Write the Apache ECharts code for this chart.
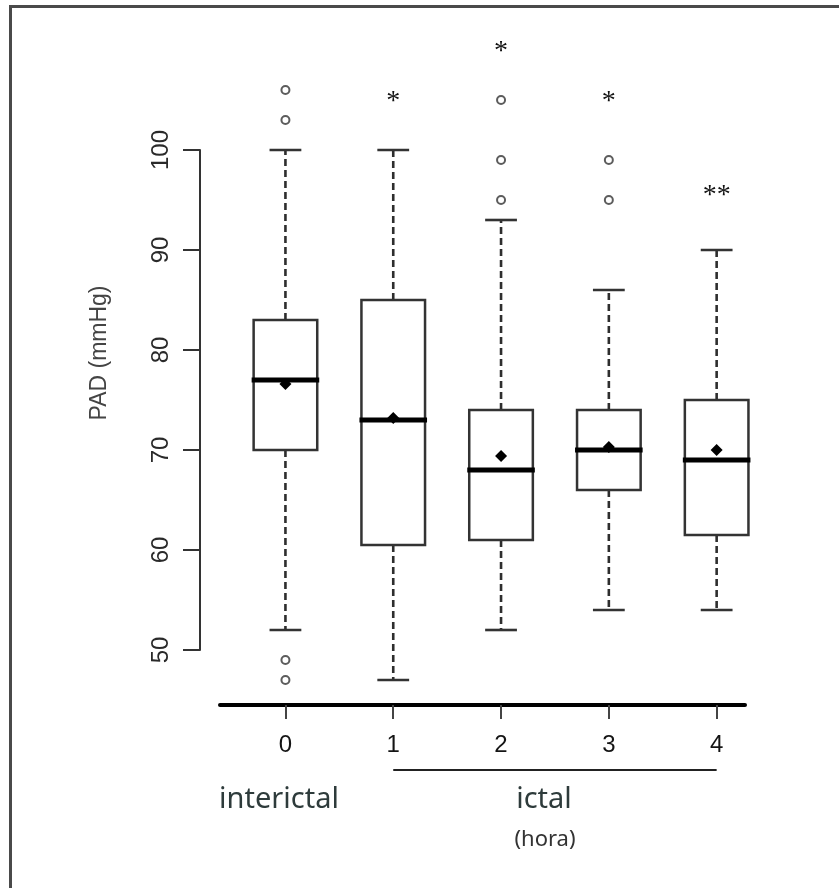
<!DOCTYPE html>
<html>
<head>
<meta charset="utf-8">
<script src="https://cdn.jsdelivr.net/npm/echarts@6/dist/echarts.min.js"></script>
<style>
  html, body { margin: 0; padding: 0; background: #ffffff; }
  #chart { width: 839px; height: 888px; }
</style>
</head>
<body>
<div id="chart"></div>
<script>
// Diastolic pressure (PAD, mmHg) per hour: 0 = interictal, 1-4 = ictal hours
const hours = ['0', '1', '2', '3', '4'];
const whiskerLow = [52, 47, 52, 54, 54];
const q1 = [70, 60.5, 61, 66, 61.5];
const median = [77, 73, 68, 70, 69];
const q3 = [83, 85, 74, 74, 75];
const whiskerHigh = [100, 100, 93, 86, 90];
const mean = [76.6, 73.2, 69.4, 70.3, 70];
const outliers = [[106, 103, 49, 47], [], [105, 99, 95], [99, 95], []];
// significance marks and the level they are written at
const sigMarks = ['', '*', '*', '*', '**'];
const sigLevel = [null, 104.8, 109.8, 104.8, 95.4];
const yTicks = [50, 60, 70, 80, 90, 100];

const BOX_W = 0.59;            // box width in hour units
const INK = '#333333';

const boxRows = hours.map((h, i) => [i, whiskerLow[i], q1[i], median[i], q3[i], whiskerHigh[i], mean[i]]);
const outlierPts = [];
outliers.forEach((list, i) => list.forEach(v => outlierPts.push([i, v])));
const sigPts = [];
sigMarks.forEach((m, i) => { if (m) sigPts.push([i, sigLevel[i]]); });

function renderBox(params, api) {
  const x = api.value(0);
  const pt = v => api.coord([x, v]);
  const half = api.size([BOX_W, 0])[0] / 2;
  const capHalf = half / 2;
  const cx = pt(api.value(1))[0];
  const yLow = pt(api.value(1))[1];
  const yQ1 = pt(api.value(2))[1];
  const yMed = pt(api.value(3))[1];
  const yQ3 = pt(api.value(4))[1];
  const yHigh = pt(api.value(5))[1];
  const yMean = pt(api.value(6))[1];
  const dash = { stroke: '#2e2e2e', lineWidth: 2.6, lineDash: [7, 4] };
  const cap = { stroke: INK, lineWidth: 2.6 };
  const d = 6;
  return {
    type: 'group',
    children: [
      { type: 'line', shape: { x1: cx, y1: yQ3, x2: cx, y2: yHigh }, style: dash },
      { type: 'line', shape: { x1: cx, y1: yQ1, x2: cx, y2: yLow }, style: dash },
      { type: 'line', shape: { x1: cx - capHalf, y1: yHigh, x2: cx + capHalf, y2: yHigh }, style: cap },
      { type: 'line', shape: { x1: cx - capHalf, y1: yLow, x2: cx + capHalf, y2: yLow }, style: cap },
      { type: 'rect', shape: { x: cx - half, y: yQ3, width: half * 2, height: yQ1 - yQ3 },
        style: { fill: '#ffffff', stroke: INK, lineWidth: 2.5 } },
      { type: 'line', shape: { x1: cx - half - 2, y1: yMed, x2: cx + half + 2, y2: yMed },
        style: { stroke: '#000000', lineWidth: 5 } },
      { type: 'polygon', shape: { points: [[cx, yMean - d], [cx + d, yMean], [cx, yMean + d], [cx - d, yMean]] },
        style: { fill: '#000000' } }
    ]
  };
}

function renderSig(params, api) {
  const i = api.value(0);
  const p = api.coord([i, api.value(1)]);
  return {
    type: 'text',
    style: {
      x: p[0], y: p[1], text: sigMarks[i],
      align: 'center', verticalAlign: 'middle',
      font: '28px "Liberation Serif"', fill: '#111111'
    }
  };
}

// bracket joining the ictal hours under the axis labels
function renderBracket(params, api) {
  const a = api.coord([api.value(0), 50]);
  const b = api.coord([api.value(1), 50]);
  const y = a[1] + 120;
  return {
    type: 'line',
    shape: { x1: a[0], y1: y, x2: b[0], y2: y },
    style: { stroke: '#222222', lineWidth: 2 }
  };
}

const chart = echarts.init(document.getElementById('chart'), null, { renderer: 'canvas' });
chart.setOption({
  backgroundColor: '#ffffff',
  animation: false,
  grid: { left: 220, right: 94, top: 150, bottom: 238 },
  xAxis: {
    type: 'value',
    min: -0.607,
    max: 4.263,
    offset: 55,
    splitLine: { show: false },
    axisLine: { show: true, onZero: false, lineStyle: { color: '#000000', width: 4 } },
    axisTick: { show: true, customValues: hours.map((h, i) => i), length: 14, lineStyle: { color: '#444444', width: 2 } },
    axisLabel: {
      customValues: hours.map((h, i) => i),
      formatter: v => hours[Math.round(v)],
      margin: 28,
      fontSize: 24,
      fontFamily: 'Liberation Sans',
      color: '#141414'
    }
  },
  yAxis: {
    type: 'value',
    min: 50,
    max: 100,
    interval: 10,
    offset: 20,
    splitLine: { show: false },
    axisLine: { show: true, onZero: false, lineStyle: { color: INK, width: 2 } },
    axisTick: { show: true, length: 17, lineStyle: { color: INK, width: 2 } },
    axisLabel: {
      rotate: 90,
      margin: 27,
      fontSize: 24,
      fontFamily: 'Liberation Sans',
      color: '#2a2a2a',
      customValues: yTicks
    }
  },
  series: [
    {
      type: 'custom',
      name: 'PAD',
      renderItem: renderBox,
      data: boxRows,
      encode: { x: 0, y: [1, 2, 3, 4, 5] },
      z: 2
    },
    {
      type: 'scatter',
      name: 'outliers',
      data: outlierPts,
      clip: false,
      symbol: 'emptyCircle',
      symbolSize: 8,
      itemStyle: { color: '#333333', borderWidth: 2.2 },
      z: 3
    },
    {
      type: 'custom',
      name: 'significance',
      renderItem: renderSig,
      data: sigPts,
      z: 3
    },
    {
      type: 'custom',
      name: 'ictal',
      renderItem: renderBracket,
      data: [[1, 4]],
      z: 3
    }
  ],
  graphic: [
    { type: 'polyline', silent: true,
      shape: { points: [[10.5, 888], [10.5, 6.5], [839, 6.5]] },
      style: { stroke: '#4a4a4a', lineWidth: 3, fill: null } },
    { type: 'text', x: 100, y: 353, rotation: Math.PI / 2,
      style: { text: 'PAD (mmHg)', align: 'center', verticalAlign: 'middle', font: '23px "Liberation Sans"', fill: '#444444' } },
    { type: 'text', x: 279, y: 800,
      style: { text: 'interictal', align: 'center', verticalAlign: 'middle', font: '29px "Noto Sans"', fill: '#2e3b3b' } },
    { type: 'text', x: 544, y: 800,
      style: { text: 'ictal', align: 'center', verticalAlign: 'middle', font: '29px "Noto Sans"', fill: '#2e3b3b' } },
    { type: 'text', x: 545, y: 840,
      style: { text: '(hora)', align: 'center', verticalAlign: 'middle', font: '22px "Noto Sans"', fill: '#333333' } }
  ]
});
</script>
</body>
</html>
